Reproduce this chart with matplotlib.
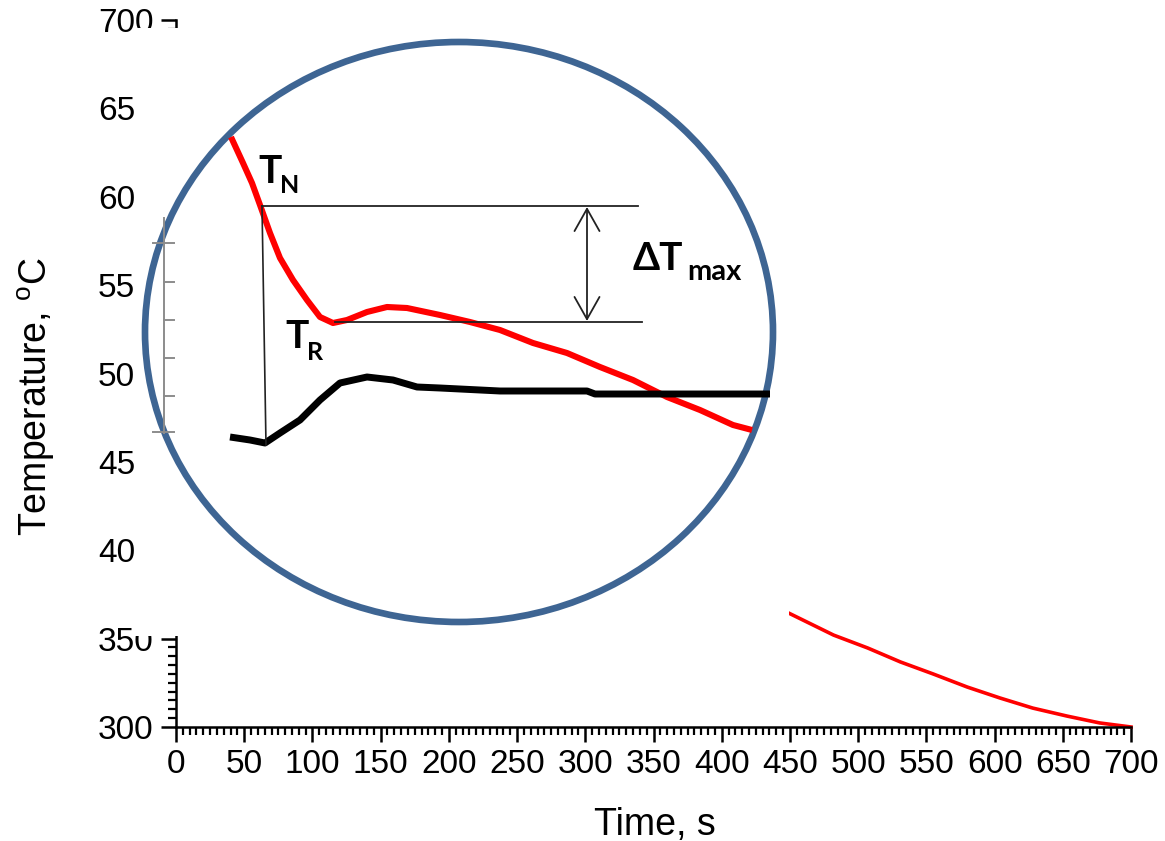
import matplotlib
matplotlib.use('Agg')
import matplotlib.pyplot as plt
from matplotlib.patches import Ellipse
from matplotlib.ticker import MultipleLocator

plt.rcParams['font.family'] = ['Liberation Sans']
plt.rcParams['mathtext.fontset'] = 'custom'
plt.rcParams['mathtext.rm'] = 'Liberation Sans'

# visible part of the cooling curve (main scale)
time = [449, 482, 507, 531, 555, 580, 604, 628, 653, 677, 700]
temp = [364.5, 352.0, 344.7, 336.8, 330.0, 322.6, 316.4, 310.7, 306.2, 302.3, 300.0]

# magnified view, in the inset's own units
zoom_x_sample = [97, 109, 118, 126, 136, 146, 159, 173, 186, 199, 213, 233, 253,
                 273, 306, 336, 366, 399, 433, 466, 499, 533, 566, 599, 618]
zoom_y_sample = [499, 473, 453, 431, 403, 378, 356, 336, 319, 313, 316, 324, 329,
                 328, 321, 314, 306, 293, 283, 269, 256, 239, 226, 211, 206]
zoom_x_ref = [96, 116, 131, 146, 166, 186, 206, 233, 259, 283, 306, 366, 453, 461, 636]
zoom_y_ref = [199, 196, 193, 203, 216, 236, 253, 259, 256, 249, 248, 245, 245, 242, 242]

# T_N, T_R levels and the tick positions of the faint inner axis
t_n = 430
t_r = 314
inner_ticks = [393, 354, 316, 278, 240, 204]

fig = plt.figure(figsize=(11.65, 8.41), dpi=100)

ax = fig.add_axes([176 / 1165, 114 / 841, 955 / 1165, 707 / 841])
ax.plot(time, temp, color='red', lw=2.6, clip_on=False)
ax.set_xlim(0, 700)
ax.set_ylim(300, 700)
ax.spines['top'].set_visible(False)
ax.spines['right'].set_visible(False)
ax.spines['left'].set_linewidth(1.8)
ax.spines['bottom'].set_linewidth(1.8)
ax.xaxis.set_major_locator(MultipleLocator(50))
ax.xaxis.set_minor_locator(MultipleLocator(5))
ax.yaxis.set_major_locator(MultipleLocator(50))
ax.yaxis.set_minor_locator(MultipleLocator(5))
ax.tick_params(which='major', direction='out', length=11, width=1.8,
               labelsize=24, pad=5)
ax.tick_params(which='minor', direction='out', length=5.5, width=1.6)

fig.text(36 / 1165, 0.529, 'Temperature, $^{\\rm o}$C', rotation=90,
         ha='center', va='center', fontsize=27)
fig.text(655 / 1165, 6 / 841, 'Time, s', ha='center', va='baseline', fontsize=27)

# magnified inset on a white panel
axz = fig.add_axes([134 / 1165, 205 / 841, 655 / 1165, 608 / 841])
axz.set_facecolor('white')
axz.set_xlim(0, 655)
axz.set_ylim(0, 608)
axz.set_xticks([])
axz.set_yticks([])
for s in axz.spines.values():
    s.set_visible(False)

axz.add_patch(Ellipse((325, 304), 628, 580, fill=False, ec='#3e6593', lw=4.8))

# faint inner axis
axz.plot([30, 30], [203, 418], color='#8c8c8c', lw=1.4)
for i, yt in enumerate(inner_ticks):
    x0 = 19 if i in (0, len(inner_ticks) - 1) else 30
    axz.plot([x0, 40], [yt, yt], color='#8c8c8c', lw=1.4)

axz.plot(zoom_x_sample, zoom_y_sample, color='red', lw=4.4,
         solid_capstyle='butt', solid_joinstyle='round')
axz.plot(zoom_x_ref, zoom_y_ref, color='black', lw=5,
         solid_capstyle='butt', solid_joinstyle='round')

axz.plot([128, 504], [t_n, t_n], color='#222222', lw=1.3)
axz.plot([201, 508], [t_r, t_r], color='#222222', lw=1.3)
axz.plot([128, 132], [t_n, 191], color='#222222', lw=1.2)
axz.annotate('', xy=(453, t_r + 1), xytext=(453, t_n - 1),
             arrowprops=dict(arrowstyle='<->,head_length=0.8,head_width=0.45',
                             color='#222222', lw=1.3, mutation_scale=20,
                             shrinkA=0, shrinkB=0))

bold = dict(family=['Lato', 'DejaVu Sans'], weight='bold', color='black',
            ha='left', va='baseline')
axz.text(124, 453, 'T', fontsize=28, **bold)
axz.text(146, 443, 'N', fontsize=18, **bold)
axz.text(151, 288, 'T', fontsize=28, **bold)
axz.text(173, 276, 'R', fontsize=18, **bold)
axz.text(499, 366, '\u0394T', fontsize=28, **bold)
axz.text(553, 356, 'max', fontsize=21, **bold)

fig.savefig('out.png', dpi=100)
